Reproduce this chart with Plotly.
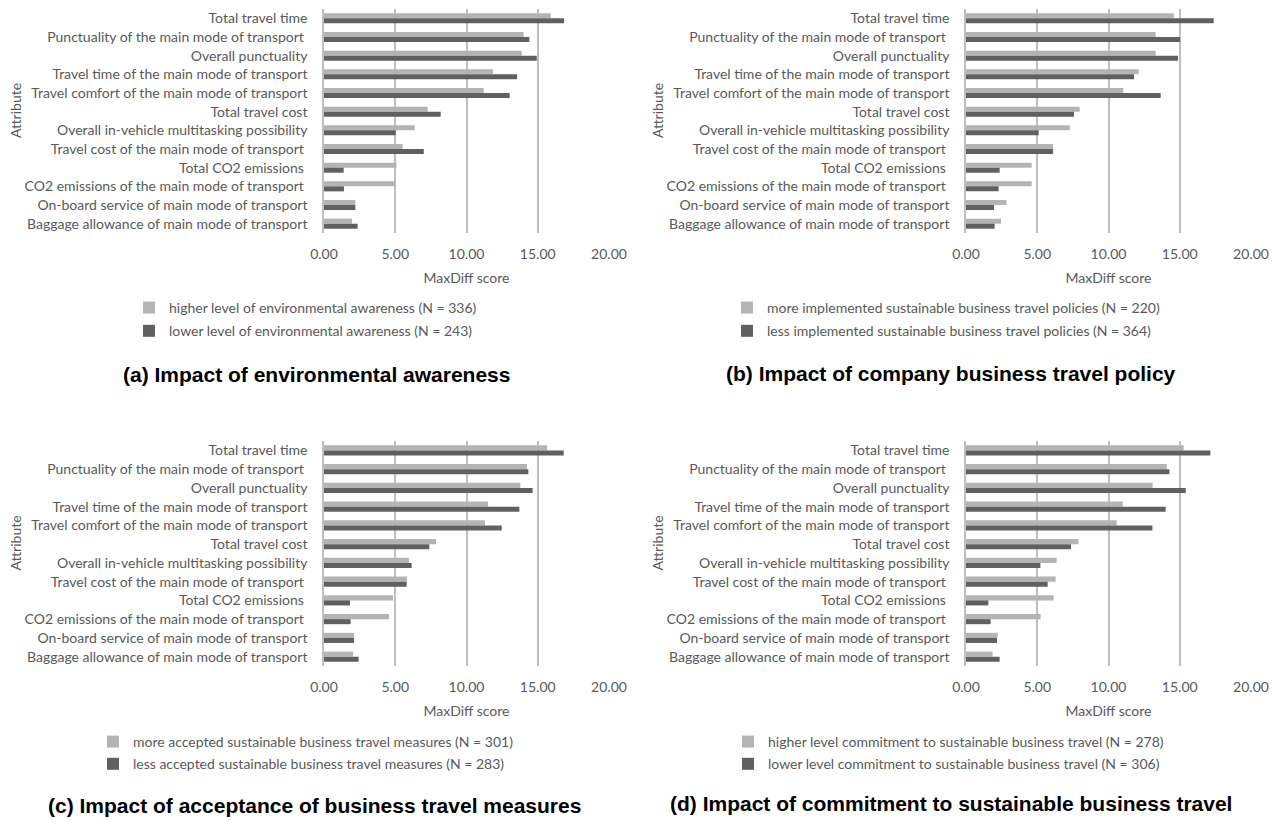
import plotly.graph_objects as go

# Attributes, listed from top to bottom
attributes = [
    "Total travel time",
    "Punctuality of the main mode of transport",
    "Overall punctuality",
    "Travel time of the main mode of transport",
    "Travel comfort of the main mode of transport",
    "Total travel cost",
    "Overall in-vehicle multitasking possibility",
    "Travel cost of the main mode of transport",
    "Total CO2 emissions",
    "CO2 emissions of the main mode of transport",
    "On-board service of main mode of transport",
    "Baggage allowance of main mode of transport",
]
# labels that carry a trailing space in the source spreadsheet
attribute_labels = [
    "Total travel time",
    "Punctuality of the main mode of transport\u00a0",
    "Overall punctuality",
    "Travel time of the main mode of transport",
    "Travel comfort of the main mode of transport",
    "Total travel cost",
    "Overall in-vehicle multitasking possibility",
    "Travel cost of the main mode of transport\u00a0",
    "Total CO2 emissions\u00a0",
    "CO2 emissions of the main mode of transport\u00a0",
    "On-board service of main mode of transport",
    "Baggage allowance of main mode of transport",
]

# (a) environmental awareness
env_high = [15.91, 14.01, 13.87, 11.86, 11.21, 7.28, 6.36, 5.52, 5.08, 4.96, 2.20, 1.97]
env_low = [16.85, 14.41, 14.93, 13.55, 13.03, 8.19, 5.03, 7.00, 1.38, 1.40, 2.20, 2.36]
# (b) company business travel policy
pol_more = [14.58, 13.31, 13.31, 12.12, 11.04, 7.98, 7.28, 6.11, 4.61, 4.61, 2.85, 2.46]
pol_less = [17.38, 15.02, 14.88, 11.79, 13.66, 7.58, 5.10, 6.11, 2.36, 2.29, 1.97, 2.01]
# (c) acceptance of business travel measures
acc_more = [15.65, 14.25, 13.78, 11.51, 11.30, 7.86, 5.96, 5.82, 4.84, 4.56, 2.11, 2.04]
acc_less = [16.82, 14.34, 14.64, 13.71, 12.47, 7.39, 6.15, 5.80, 1.82, 1.87, 2.11, 2.43]
# (d) commitment to sustainable business travel
com_high = [15.28, 14.09, 13.10, 11.00, 10.58, 7.89, 6.36, 6.29, 6.15, 5.24, 2.22, 1.87]
com_low = [17.15, 14.27, 15.42, 14.01, 13.08, 7.37, 5.22, 5.73, 1.57, 1.73, 2.18, 2.36]

series_names = [
    ("higher level of environmental awareness (N = 336)",
     "lower level of environmental awareness (N = 243)"),
    ("more implemented sustainable business travel policies (N = 220)",
     "less implemented sustainable business travel policies (N = 364)"),
    ("more accepted sustainable business travel measures (N = 301)",
     "less accepted sustainable business travel measures (N = 283)"),
    ("higher level commitment to sustainable business travel (N = 278)",
     "lower level commitment to sustainable business travel (N = 306)"),
]
panel_titles = [
    "(a) Impact of environmental awareness",
    "(b) Impact of company business travel policy",
    "(c) Impact of acceptance of business travel measures",
    "(d) Impact of commitment to sustainable business travel",
]
panel_values = [(env_high, env_low), (pol_more, pol_less), (acc_more, acc_less), (com_high, com_low)]

W, H = 1280, 820
LIGHT = "#b4b4b4"
DARK = "#606060"
TEXT = "#595959"
GRID = "#bfbfbf"
FONT = "Lato"
FS = 14

# pixel boxes of each plot area: (left, right, top, bottom)
boxes = [(324, 609, 9, 233), (966, 1251, 9, 233), (324, 609, 441, 666), (966, 1251, 441, 666)]
legend_pos = [(129, 292), (727, 292), (93, 726), (728, 726)]
legend_gap = [2, 2, 1, 1]
caption_pos = [(316, 375), (951, 374), (314, 805), (951, 803)]
ytitle_x = [15, 657, 15, 657]

fig = go.Figure()
for i, ((hi, lo), (n_hi, n_lo), box) in enumerate(zip(panel_values, series_names, boxes)):
    k = "" if i == 0 else str(i + 1)
    lg = "legend" if i == 0 else f"legend{i + 1}"
    for vals, name, col, grp in ((hi, n_hi, LIGHT, "a"), (lo, n_lo, DARK, "b")):
        fig.add_trace(go.Bar(
            x=vals, y=attributes, orientation="h", name=name,
            marker=dict(color=col, line=dict(width=0)),
            xaxis="x" + k, yaxis="y" + k, legend=lg,
            legendgroup=f"{i}{grp}", hoverinfo="x+y",
        ))
    l, r, t, b = box
    fig.update_layout(**{
        f"xaxis{k}": dict(
            domain=[l / W, r / W], anchor="y" + k, range=[0, 20], tickvals=[0, 5, 10, 15, 20],
            tickformat=".2f", showgrid=True, gridcolor=GRID, gridwidth=1.5, zeroline=False,
            showline=False, ticks="outside", ticklen=8, tickcolor="rgba(0,0,0,0)",
            tickfont=dict(family=FONT, size=FS, color=TEXT), automargin=False,
            title=dict(text="MaxDiff score", font=dict(family=FONT, size=FS, color=TEXT), standoff=12),
            fixedrange=True,
        ),
        f"yaxis{k}": dict(
            domain=[1 - b / H, 1 - t / H], anchor="x" + k, autorange="reversed",
            type="category", categoryorder="array", categoryarray=attributes,
            tickvals=attributes, ticktext=attribute_labels, automargin=False,
            showline=True, linecolor=GRID, linewidth=1.5, showgrid=False,
            ticks="outside", ticklen=12, tickcolor="rgba(0,0,0,0)",
            tickfont=dict(family=FONT, size=FS, color=TEXT),
            fixedrange=True,
        ),
    })
    # vertical "Attribute" axis title, sitting slightly above the plot centre
    fig.add_annotation(
        text="Attribute", textangle=-90, x=ytitle_x[i] / W, y=1 - ((t + b) / 2 - 10) / H,
        xref="paper", yref="paper", xanchor="center", yanchor="middle", showarrow=False,
        font=dict(family=FONT, size=FS, color=TEXT),
    )
    lx, ly = legend_pos[i]
    fig.update_layout(**{
        lg: dict(
            x=lx / W, y=1 - ly / H, xanchor="left", yanchor="top",
            font=dict(family=FONT, size=FS, color=TEXT), traceorder="grouped",
            tracegroupgap=legend_gap[i], bgcolor="rgba(0,0,0,0)",
        )
    })
    cx, cy = caption_pos[i]
    fig.add_annotation(
        text=f"<b>{panel_titles[i]}</b>", x=cx / W, y=1 - cy / H, xref="paper", yref="paper",
        xanchor="center", yanchor="middle", showarrow=False,
        font=dict(family="Liberation Sans", size=21, color="#000000"),
    )

fig.update_layout(
    width=W, height=H, autosize=False, margin=dict(l=0, r=0, t=0, b=0, pad=0, autoexpand=False),
    paper_bgcolor="white", plot_bgcolor="white",
    barmode="group", bargap=0.46, bargroupgap=0,
    showlegend=True,
)
fig.write_html("out.html")
